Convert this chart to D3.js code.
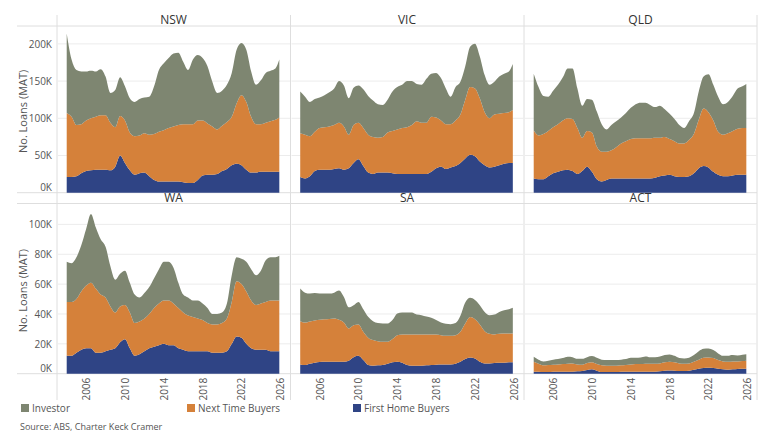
<!DOCTYPE html>
<html>
<head>
<meta charset="utf-8">
<script src="https://cdn.jsdelivr.net/npm/d3@7"></script>
<style>
  body { margin: 0; background: #fff; }
  svg text { font-family: "Open Sans", sans-serif; }
</style>
</head>
<body>
<svg id="chart" width="764" height="446"></svg>
<script>
// half-yearly points, values in thousands of loans (MAT)
const periods = [2004, 2004.5, 2005, 2005.5, 2006, 2006.5, 2007, 2007.5, 2008, 2008.5,
  2009, 2009.5, 2010, 2010.5, 2011, 2011.5, 2012, 2012.5, 2013, 2013.5,
  2014, 2014.5, 2015, 2015.5, 2016, 2016.5, 2017, 2017.5, 2018, 2018.5,
  2019, 2019.5, 2020, 2020.5, 2021, 2021.5, 2022, 2022.5, 2023, 2023.5,
  2024, 2024.5, 2025, 2025.5, 2025.9];

const states = ['NSW', 'VIC', 'QLD', 'WA', 'SA', 'ACT'];

const nswFhb = [21,21,22,26,29,30,31,31,31,30,35,50,40,30,24,26,27,22,17,15,15,15,15,15,14,13,13,17,23,24,24,25,29,32,37,39,37,31,27,27,28,28,28,28,28];
const nswNtb = [86,81,69,66,68,70,71,73,73,64,53,53,57,51,52,51,53,56,62,67,69,72,74,76,78,79,79,80,74,69,65,60,61,63,65,81,94,91,75,65,64,66,68,70,73];
const nswInv = [107,77,74,71,66,64,61,62,52,40,50,52,46,46,46,49,48,51,64,83,90,94,98,97,84,73,87,88,84,77,60,49,47,50,59,72,70,70,61,53,59,67,68,69,78];

const vicFhb = [21,19,22,29,31,31,31,32,33,31,33,40,45,36,27,25,27,27,27,26,25,25,25,25,25,25,25,28,33,35,32,34,36,40,46,51,49,42,37,34,35,37,39,40,40];
const vicNtb = [59,59,54,53,56,57,58,59,61,58,45,51,49,51,51,50,47,48,54,57,60,62,63,66,71,69,69,74,68,62,60,58,61,65,79,91,91,85,71,66,70,69,68,68,71];
const vicInv = [56,51,46,44,41,43,46,49,56,55,49,50,50,52,52,49,45,43,44,53,57,58,62,59,50,51,59,58,60,57,48,37,45,44,45,54,60,56,50,45,44,50,53,55,62];

const qldFhb = [19,18,18,22,26,28,30,31,29,25,29,35,28,18,15,17,19,19,19,19,19,19,19,19,19,20,22,23,24,22,21,21,22,26,33,36,34,28,24,22,22,23,24,24,24];
const qldNtb = [65,59,61,61,62,64,67,69,70,62,45,48,53,44,40,38,38,42,47,50,53,54,54,54,54,54,52,52,48,47,45,45,49,53,65,77,74,69,58,56,58,60,62,63,63];
const qldInv = [76,65,51,46,49,53,58,67,68,53,43,43,44,47,37,30,34,35,35,38,42,46,48,48,45,41,43,37,34,30,25,21,25,28,38,43,51,48,47,41,42,47,54,56,59];

const waFhb = [12,12,14,16,17,17,14,14,15,16,17,21,23,17,12,13,15,17,18,19,20,19,19,17,16,15,15,15,15,15,14,14,14,15,20,25,24,20,17,16,16,16,15,15,15];
const waNtb = [36,36,36,39,42,44,43,39,36,29,24,24,23,24,22,22,22,23,26,28,29,30,28,27,25,24,23,22,21,19,19,19,20,22,28,37,36,35,32,30,31,32,34,34,34];
const waInv = [27,26,28,31,38,46,41,37,34,27,22,22,23,20,19,16,17,18,20,23,26,26,24,17,12,12,11,12,11,10,7,7,7,10,18,16,17,20,21,20,22,28,29,29,30];

const saFhb = [6.2,5.8,6.7,7.3,7.8,8,8,8,8,8,8.7,11.1,12,9.1,5.8,5.3,5.6,5.8,6.7,7.6,8,7.3,5.8,5.3,5.3,5.3,5.6,5.8,6,6.2,6.2,6.2,6.7,8,9.8,10.9,10.2,8,6.9,6.9,7.1,7.3,7.3,7.6,7.6];
const saNtb = [29,28.5,28.3,28.3,28.3,28.5,28.7,29,28.1,26.3,21.6,21.4,21,19,18.3,17.2,16.2,15.6,14.7,15.6,17.8,19,20.5,21,21,21,20.7,20.5,20.3,19.6,19.2,19.2,19.1,20.1,23.8,27,26.3,25,21.6,19.8,19.2,19.4,19.6,19.3,19.3];
const saInv = [21.8,20,18.7,18.5,17.6,17.2,17,17.3,19.6,17.1,14.2,13.4,15.1,15.1,14,12.7,12.1,12.2,12.2,12.7,14.5,14.7,14.7,14.7,13.3,12.9,12,11.1,9.6,8.5,8,7.8,8.1,10.7,14.1,12.9,12.9,12.9,12.9,12.5,13.3,14.7,15.6,16.3,17.2];

const actFhb = [1.3,1.3,1.1,1.1,1.3,1.3,1.3,1.3,1.3,1.6,1.8,2.4,2.9,2,1.1,1.1,1.1,1.1,1.3,1.3,1.3,1.3,1.3,1.3,1.3,1.3,1.6,2,2.2,2,1.8,1.8,2,2.7,3.3,3.8,4,3.8,3.3,2.9,2.7,2.9,3.1,3.3,3.3];
const actNtb = [6.7,5.4,4.5,4.7,4.7,4.9,5.2,5.4,5.6,4.6,4.2,4.7,4.7,4.5,4.5,4.2,4.2,4.2,4.3,4.5,4.9,5.2,5.2,5.4,5.4,5.4,5.3,5.6,5.8,5.6,5.1,4.9,4.9,5.3,6.1,6.9,6.9,6.7,5.8,5.3,5.3,5.3,5.1,5.2,5.4];
const actInv = [3.4,2.7,2.6,2.9,3.4,3.6,4,4.7,4.2,3.8,4,4,4.2,4.2,3.8,3.8,3.8,3.8,3.8,4,4.5,4.2,4.4,4.9,4.4,4.4,4.7,4.9,4.9,4.4,3.6,3.5,3.8,4.5,5.7,6,6,5.3,4.5,3.8,4,4.3,4,4.2,4.4];

const topTicks = [0, 50, 100, 150, 200];
const bottomTicks = [0, 20, 40, 60, 80, 100];
const yearTicks = [2006, 2010, 2014, 2018, 2022, 2026];

const seriesKeys = ['fhb', 'ntb', 'inv'];
const seriesNames = { inv: 'Investor', ntb: 'Next Time Buyers', fhb: 'First Home Buyers' };
const colors = { inv: '#7e8671', ntb: '#d5813a', fhb: '#2f4485' };

const stateData = {
  NSW: [nswFhb, nswNtb, nswInv],
  VIC: [vicFhb, vicNtb, vicInv],
  QLD: [qldFhb, qldNtb, qldInv],
  WA: [waFhb, waNtb, waInv],
  SA: [saFhb, saNtb, saInv],
  ACT: [actFhb, actNtb, actInv]
};

const svg = d3.select('#chart');
const gridColor = '#ececec';
const frameColor = '#dedede';

const colX = [57, 290.5, 524];
const panelW = 233;
const rows = [
  { top: 26, bottom: 192.7, max: 224, ticks: topTicks },
  { top: 203.5, bottom: 373.7, max: 114, ticks: bottomTicks }
];

// frame lines
rows.forEach(r => {
  [r.top, r.bottom].forEach(yy => {
    svg.append('line')
      .attr('x1', 17).attr('x2', 757)
      .attr('y1', yy).attr('y2', yy)
      .attr('stroke', frameColor);
  });
});
colX.concat([757]).forEach(xx => {
  svg.append('line')
    .attr('x1', xx).attr('x2', xx)
    .attr('y1', 15).attr('y2', 400)
    .attr('stroke', frameColor);
});

const stack = d3.stack().keys(seriesKeys);

states.forEach((st, i) => {
  const row = rows[Math.floor(i / 3)];
  const col = i % 3;
  const x0 = colX[col];

  const xScale = d3.scaleLinear()
    .domain([2003, 2027])
    .range([x0, x0 + panelW]);
  const yScale = d3.scaleLinear()
    .domain([0, row.max])
    .range([row.bottom, row.top]);

  const arrs = stateData[st];
  const table = periods.map((t, k) => ({ t: t, fhb: arrs[0][k], ntb: arrs[1][k], inv: arrs[2][k] }));
  const layers = stack(table);

  const g = svg.append('g');

  // gridlines
  g.selectAll('.grid')
    .data(row.ticks.filter(d => d > 0))
    .enter()
    .append('line')
      .attr('x1', x0 + 1).attr('x2', x0 + panelW)
      .attr('y1', d => yScale(d)).attr('y2', d => yScale(d))
      .attr('stroke', gridColor);

  const area = d3.area()
    .x(d => xScale(d.data.t))
    .y0(d => yScale(d[0]))
    .y1(d => yScale(d[1]))
    .curve(d3.curveMonotoneX);

  g.selectAll('path.layer')
    .data(layers)
    .enter()
    .append('path')
      .attr('class', 'layer')
      .attr('d', area)
      .attr('fill', d => colors[d.key]);

  // panel title
  svg.append('text')
    .attr('x', x0 + panelW / 2)
    .attr('y', row.top - 2)
    .attr('text-anchor', 'middle')
    .attr('font-size', 12)
    .attr('fill', '#333')
    .text(st);

  // y axis on first column
  if (col === 0) {
    const yAxisG = svg.append('g')
      .attr('transform', `translate(${x0}, 0)`)
      .call(d3.axisLeft(yScale).tickValues(row.ticks).tickFormat(d => d + 'K').tickSize(0).tickPadding(5));
    yAxisG.select('.domain').remove();
    yAxisG.selectAll('.tick text')
      .attr('font-size', 10)
      .attr('fill', '#555')
      .attr('font-family', '"Open Sans", sans-serif')
      .attr('dy', d => d === 0 ? '-0.25em' : '0.32em');

    svg.append('text')
      .attr('transform', `translate(27, ${(row.top + row.bottom) / 2 + 2}) rotate(-90)`)
      .attr('text-anchor', 'middle')
      .attr('font-size', 11)
      .attr('fill', '#555')
      .text('No. Loans (MAT)');
  }

  // x axis on bottom row
  if (i >= 3) {
    const xAxisG = svg.append('g')
      .attr('transform', `translate(0, ${row.bottom})`)
      .call(d3.axisBottom(xScale).tickValues(yearTicks).tickFormat(d3.format('d')).tickSize(0));
    xAxisG.select('.domain').remove();
    xAxisG.selectAll('.tick text')
      .attr('transform', 'rotate(-90)')
      .attr('text-anchor', 'end')
      .attr('x', -4)
      .attr('y', 0)
      .attr('dy', '0.35em')
      .attr('font-size', 10)
      .attr('fill', '#555')
      .attr('font-family', '"Open Sans", sans-serif');
  }
});

// legend
const legendX = [21, 187, 353];
['inv', 'ntb', 'fhb'].forEach((k, i) => {
  svg.append('rect')
    .attr('x', legendX[i]).attr('y', 404)
    .attr('width', 8).attr('height', 8)
    .attr('fill', colors[k]);
  svg.append('text')
    .attr('x', legendX[i] + 11).attr('y', 412)
    .attr('font-size', 10)
    .attr('fill', '#555')
    .text(seriesNames[k]);
});

svg.append('text')
  .attr('x', 20).attr('y', 430)
  .attr('font-size', 9)
  .attr('fill', '#555')
  .text('Source: ABS, Charter Keck Cramer');
</script>
</body>
</html>
